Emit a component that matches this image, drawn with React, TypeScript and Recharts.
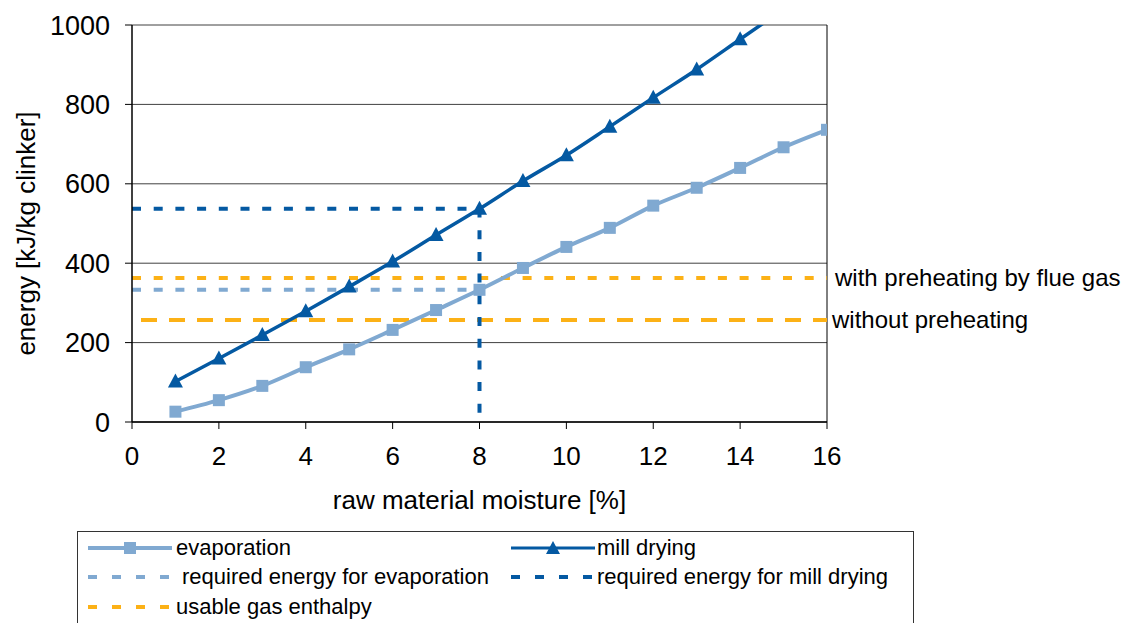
import React from 'react';
import { LineChart, Line, XAxis, YAxis, CartesianGrid, ReferenceLine, Legend, Label } from 'recharts';

// ---- data ----
const evapMoisture = [1, 2, 3, 4, 5, 6, 7, 8, 9, 10, 11, 12, 13, 14, 15, 16];
const evaporation = [26, 55, 91, 138, 183, 232, 282, 333, 388, 441, 489, 545, 590, 640, 692, 736];
const millMoisture = [1, 2, 3, 4, 5, 6, 7, 8, 9, 10, 11, 12, 13, 14, 15];
const millDrying = [102, 160, 219, 279, 341, 404, 471, 537, 607, 672, 744, 817, 888, 964, 1040];

const reqEvapX = [0, 8];
const reqEvapY = [333, 333];
const reqMillX = [0, 8, 8];
const reqMillY = [537, 537, 0];
const gasPreX = [0, 16];
const gasPreY = [363, 363];
const gasNoX = [0, 16];
const gasNoY = [257, 257];
const gasLabels = ['with preheating by flue gas', 'without preheating'];

const xTicks = [0, 2, 4, 6, 8, 10, 12, 14, 16];
const yTicks = [0, 200, 400, 600, 800, 1000];

const xTitle = 'raw material moisture [%]';
const yTitle = 'energy [kJ/kg clinker]';

const names = {
  evap: 'evaporation',
  mill: 'mill drying',
  reqEvap: 'required energy for evaporation',
  reqMill: 'required energy for mill drying',
  gas: 'usable gas enthalpy',
};

const zip = (xs: number[], ys: number[]) => xs.map((x, i) => ({ x, y: ys[i] }));

const evapData = zip(evapMoisture, evaporation);
const millData = zip(millMoisture, millDrying);
const reqEvapData = zip(reqEvapX, reqEvapY);
const reqMillData = zip(reqMillX, reqMillY);
const gasPreData = zip(gasPreX, gasPreY);
const gasNoData = zip(gasNoX, gasNoY);

const LIGHT = '#80A9D1';
const DARK = '#0459A2';
const ORANGE = '#FCB116';
const FONT = '"Liberation Sans", Arial, sans-serif';

const SquareDot = (props: any) => {
  const { cx, cy } = props;
  if (cx == null || cy == null) return null;
  return <rect x={cx - 6} y={cy - 6} width={12} height={12} fill={LIGHT} />;
};

const TriangleDot = (props: any) => {
  const { cx, cy } = props;
  if (cx == null || cy == null) return null;
  return <polygon points={`${cx},${cy - 8} ${cx - 7.5},${cy + 6} ${cx + 7.5},${cy + 6}`} fill={DARK} />;
};

type LegendItem = { name: string; color: string; kind: 'square' | 'triangle' | 'dots'; col: number; row: number; textLeft: number };

const legendItems: LegendItem[] = [
  { name: names.evap, color: LIGHT, kind: 'square', col: 0, row: 0, textLeft: 98 },
  { name: names.mill, color: DARK, kind: 'triangle', col: 1, row: 0, textLeft: 519 },
  { name: names.reqEvap, color: LIGHT, kind: 'dots', col: 0, row: 1, textLeft: 104 },
  { name: names.reqMill, color: DARK, kind: 'dots', col: 1, row: 1, textLeft: 519 },
  { name: names.gas, color: ORANGE, kind: 'dots', col: 0, row: 2, textLeft: 98 },
];

const Sample = ({ item }: { item: LegendItem }) => {
  const w = 84;
  const h = 16;
  const cy = h / 2;
  if (item.kind === 'dots') {
    return (
      <svg width={w} height={h} style={{ display: 'block' }}>
        <line x1={0} y1={cy} x2={w} y2={cy} stroke={item.color} strokeWidth={4} strokeDasharray="9 15" />
      </svg>
    );
  }
  return (
    <svg width={w} height={h} style={{ display: 'block' }}>
      <line x1={0} y1={cy} x2={w} y2={cy} stroke={item.color} strokeWidth={item.kind === 'square' ? 4 : 3} />
      {item.kind === 'square' ? (
        <rect x={w / 2 - 6} y={cy - 6} width={12} height={12} fill={item.color} />
      ) : (
        <polygon points={`${w / 2},${cy - 7} ${w / 2 - 7},${cy + 6} ${w / 2 + 7},${cy + 6}`} fill={item.color} />
      )}
    </svg>
  );
};

const rowCenters = [16, 45, 75];
const sampleLefts = [10, 433];

const LegendBox = () => (
  <div
    style={{
      position: 'relative',
      width: 837,
      height: 120,
      border: '1px solid #333',
      boxSizing: 'border-box',
      background: '#fff',
      fontFamily: FONT,
      fontSize: 22,
      color: '#000',
    }}
  >
    {legendItems.map((it) => (
      <React.Fragment key={it.name}>
        <div style={{ position: 'absolute', left: sampleLefts[it.col], top: rowCenters[it.row] - 8 }}>
          <Sample item={it} />
        </div>
        <div
          style={{
            position: 'absolute',
            left: it.textLeft,
            top: rowCenters[it.row] - 13,
            height: 26,
            lineHeight: '26px',
            whiteSpace: 'nowrap',
          }}
        >
          {it.name}
        </div>
      </React.Fragment>
    ))}
  </div>
);

const YTitle = (props: any) => {
  const vb = props.viewBox || {};
  const x = (vb.x ?? 0) - 6;
  const y = (vb.y ?? 0) + (vb.height ?? 0) / 2 + 10;
  return (
    <text
      x={x}
      y={y}
      transform={`rotate(-90, ${x}, ${y})`}
      textAnchor="middle"
      dominantBaseline="central"
      fontFamily={FONT}
      fontSize={26}
      fill="#000"
    >
      {yTitle}
    </text>
  );
};

export default function App() {
  const yTickStyle = { fill: '#000', fontSize: 27, fontFamily: FONT };
  const xTickStyle = { fill: '#000', fontSize: 26, fontFamily: FONT };
  return (
    <div style={{ position: 'absolute', left: 0, top: 0, width: 1135, height: 623, overflow: 'hidden', background: '#fff' }}>
      <LineChart width={1135} height={623} margin={{ top: 25, right: 308, bottom: 101, left: 32 }}>
        <CartesianGrid vertical={false} stroke="#404040" strokeWidth={1} />
        <XAxis
          type="number"
          dataKey="x"
          domain={[0, 16]}
          ticks={xTicks}
          allowDataOverflow
          height={100}
          axisLine={{ stroke: '#000', strokeWidth: 1.5 }}
          tickLine={{ stroke: '#000' }}
          tickSize={7}
          tickMargin={18}
          tick={xTickStyle}
        >
          <Label value={xTitle} position="insideTop" offset={69} fontSize={26} fontFamily={FONT} fill="#000" />
        </XAxis>
        <YAxis
          type="number"
          domain={[0, 1000]}
          ticks={yTicks}
          allowDataOverflow
          width={100}
          axisLine={{ stroke: '#000', strokeWidth: 1.5 }}
          tickLine={{ stroke: '#000' }}
          tickSize={7}
          tickMargin={15}
          tick={yTickStyle}
        >
          <Label content={<YTitle />} />
        </YAxis>
        <ReferenceLine x={16} stroke="#000" strokeWidth={1} />
        <ReferenceLine
          y={gasPreY[0]}
          stroke="none"
          label={{ value: gasLabels[0], position: 'right', offset: 8, fill: '#000', fontSize: 24, fontFamily: FONT }}
        />
        <ReferenceLine
          y={gasNoY[0]}
          stroke="none"
          label={{ value: gasLabels[1], position: 'right', offset: 5, fill: '#000', fontSize: 24, fontFamily: FONT }}
        />
        <Line
          data={gasNoData}
          dataKey="y"
          name="usable gas enthalpy (without preheating)"
          type="linear"
          stroke={ORANGE}
          strokeWidth={4}
          strokeDasharray="16 12"
          strokeDashoffset={19}
          dot={false}
          activeDot={false}
          legendType="none"
          isAnimationActive={false}
        />
        <Line
          data={gasPreData}
          dataKey="y"
          name={names.gas}
          type="linear"
          stroke={ORANGE}
          strokeWidth={4}
          strokeDasharray="9 12.7"
          dot={false}
          activeDot={false}
          isAnimationActive={false}
        />
        <Line
          data={reqEvapData}
          dataKey="y"
          name={names.reqEvap}
          type="linear"
          stroke={LIGHT}
          strokeWidth={4}
          strokeDasharray="9 12.7"
          dot={false}
          activeDot={false}
          isAnimationActive={false}
        />
        <Line
          data={reqMillData}
          dataKey="y"
          name={names.reqMill}
          type="linear"
          stroke={DARK}
          strokeWidth={4}
          strokeDasharray="9 12.7"
          dot={false}
          activeDot={false}
          isAnimationActive={false}
        />
        <Line
          data={evapData}
          dataKey="y"
          name={names.evap}
          type="monotone"
          stroke={LIGHT}
          strokeWidth={4}
          dot={<SquareDot />}
          activeDot={false}
          isAnimationActive={false}
        />
        <Line
          data={millData}
          dataKey="y"
          name={names.mill}
          type="monotone"
          stroke={DARK}
          strokeWidth={3.5}
          dot={<TriangleDot />}
          activeDot={false}
          isAnimationActive={false}
        />
        <Legend
          layout="vertical"
          align="center"
          verticalAlign="middle"
          content={() => <LegendBox />}
          wrapperStyle={{ position: 'absolute', left: 77, top: 531, width: 837, height: 120 }}
        />
      </LineChart>
    </div>
  );
}
